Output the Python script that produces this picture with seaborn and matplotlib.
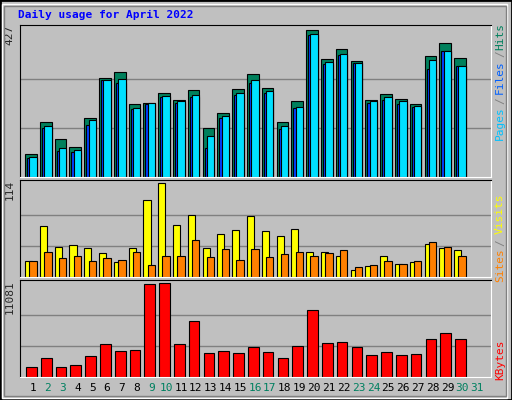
import numpy as np
import seaborn as sns
import matplotlib.pyplot as plt
from matplotlib.patches import Rectangle

days = np.arange(1, 31)
day_labels = [str(d) for d in range(1, 32)]
weekend = [2, 3, 9, 10, 16, 17, 23, 24, 30, 31]

hits = [68, 160, 111, 88, 172, 288, 305, 213, 215, 245, 224, 253, 143, 186, 256,
        299, 259, 160, 221, 427, 343, 372, 337, 224, 242, 227, 213, 352, 389, 346]
files = [59, 149, 85, 79, 166, 282, 285, 201, 215, 236, 221, 239, 120, 178, 244,
         282, 250, 149, 204, 415, 334, 357, 331, 221, 233, 221, 207, 340, 366, 323]
pages = [56, 143, 76, 73, 152, 282, 274, 199, 213, 233, 216, 233, 85, 172, 239,
         274, 245, 141, 201, 412, 328, 354, 331, 216, 224, 213, 203, 314, 366, 323]
visits = [20, 62, 37, 39, 35, 29, 18, 35, 94, 114, 63, 76, 35, 52, 57,
          74, 56, 50, 58, 30, 30, 26, 9, 13, 26, 16, 18, 40, 35, 33]
sites = [19, 30, 23, 26, 20, 23, 21, 31, 15, 25, 26, 45, 24, 34, 21,
         34, 24, 28, 31, 26, 29, 33, 12, 15, 20, 16, 20, 42, 36, 26]
kbytes = [1132, 2224, 1132, 1375, 2467, 3923, 3073, 3195, 10959, 11081, 3923, 6592, 2831, 3073, 2831,
          3559, 2952, 2224, 3680, 7926, 4044, 4165, 3559, 2588, 2952, 2588, 2709, 4529, 5257, 4529]

sns.set_style("white")
plt.rcParams['font.family'] = ['DejaVu Sans Mono']

BG = "#C0C0C0"
fig = plt.figure(figsize=(5.12, 4.0), dpi=100, facecolor=BG)
W, H = 512, 400


def px_axes(x0, y0, x1, y1):
    return fig.add_axes([x0 / W, 1 - y1 / H, (x1 - x0) / W, (y1 - y0) / H])


def style(ax, top, label):
    ax.set_facecolor(BG)
    ax.set_xlim(0.12, 31.95)
    ax.set_ylim(0, top * 1.035)
    for v in (top / 3, top * 2 / 3):
        ax.axhline(v, color="#808080", lw=1, zorder=0)
    ax.set_xticks([])
    ax.set_yticks([])
    for s in ("left", "top"):
        ax.spines[s].set_color("black")
    for s in ("right", "bottom"):
        ax.spines[s].set_color("white")
    ax.text(-0.012, 1.0, label, transform=ax.transAxes, rotation=90,
            ha="right", va="top", fontsize=8)


def bars(ax, vals, left, right, color):
    ax.bar(days + left, vals, width=right - left, align="edge", color=color,
           edgecolor="black", linewidth=0.8)


ax1 = px_axes(20, 25, 491, 177)
style(ax1, 427, "427")
bars(ax1, hits, -0.54, 0.25, "#00805C")
bars(ax1, pages, -0.40, 0.25, "#0040FF")
bars(ax1, files, -0.25, 0.25, "#00E0FF")

ax2 = px_axes(20, 180, 491, 277)
style(ax2, 114, "114")
bars(ax2, visits, -0.54, -0.06, "#FFFF00")
bars(ax2, sites, -0.25, 0.25, "#FF8000")

ax3 = px_axes(20, 280, 491, 377)
style(ax3, 11081, "11081")
bars(ax3, kbytes, -0.47, 0.25, "#FF0000")

# day labels
for i, lab in enumerate(day_labels):
    d = i + 1
    col = "#008060" if d in weekend else "black"
    x = ax3.transData.transform((d, 0))[0] / W
    fig.text(33 / W + (d - 1) * 14.8 / W, 1 - 388 / H, lab, color=col,
             ha="center", va="center", fontsize=8)

# right side legends (bottom to top)
def side(y, s, col):
    fig.text(500 / W, 1 - y / H, s, rotation=90, color=col, ha="center",
             va="center", fontsize=8)

side(123, "Pages", "#00C0FF")
side(101, "/", "#808080")
side(77, "Files", "#0060FF")
side(54, "/", "#808080")
side(37, "Hits", "#00805C")
side(265, "Sites", "#FF8000")
side(243, "/", "#808080")
side(214, "Visits", "#FFFF00")
side(360, "KBytes", "#FF0000")

fig.text(18 / W, 1 - 15 / H, "Daily usage for April 2022", color="#0000FF",
         fontsize=8, fontweight="bold", ha="left", va="center")

# bevelled frame
fig.patches.append(Rectangle((0, 0), 1, 1, transform=fig.transFigure,
                             fill=False, edgecolor="black", lw=2))
fig.patches.append(Rectangle((0.004, 0.006), 0.986, 0.985, transform=fig.transFigure,
                             fill=False, edgecolor="white", lw=1))
fig.patches.append(Rectangle((4 / W, 4 / H), 1 - 10 / W, 1 - 10 / H, transform=fig.transFigure,
                             fill=False, edgecolor="#808080", lw=1))

fig.savefig("out.png", dpi=100, facecolor=BG)
